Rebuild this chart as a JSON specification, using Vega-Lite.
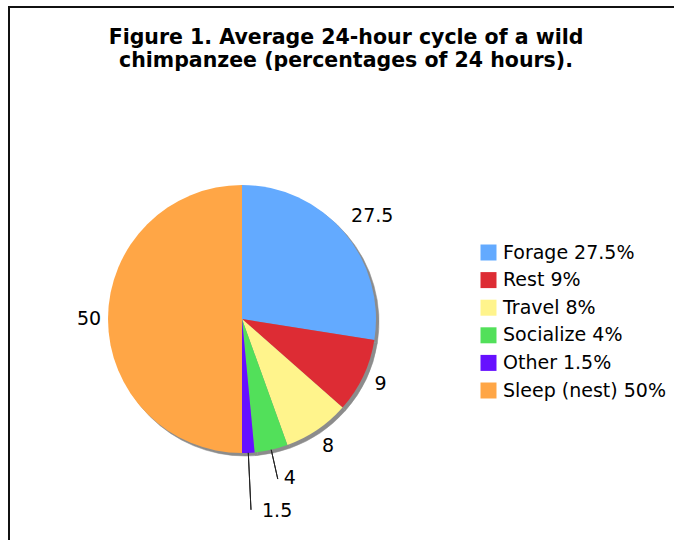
{
  "$schema": "https://vega.github.io/schema/vega-lite/v6.json",
  "width": 674,
  "height": 540,
  "autosize": "none",
  "padding": {"left": 9, "top": 7, "right": 0, "bottom": 0},
  "background": "white",
  "view": {"stroke": "#111", "strokeWidth": 2},
  "title": {
    "text": ["Figure 1. Average 24-hour cycle of a wild", "chimpanzee (percentages of 24 hours)."],
    "font": "DejaVu Sans",
    "fontSize": 20.5,
    "fontWeight": "bold",
    "color": "#000",
    "anchor": "middle",
    "frame": "group",
    "baseline": "top",
    "lineHeight": 23,
    "offset": -20,
    "dy": 44
  },
  "data": {
    "values": [
      {"activity": "Forage", "label": "Forage 27.5%", "value": 27.5, "order": 1},
      {"activity": "Rest", "label": "Rest 9%", "value": 9, "order": 2},
      {"activity": "Travel", "label": "Travel 8%", "value": 8, "order": 3},
      {"activity": "Socialize", "label": "Socialize 4%", "value": 4, "order": 4},
      {"activity": "Other", "label": "Other 1.5%", "value": 1.5, "order": 5},
      {"activity": "Sleep (nest)", "label": "Sleep (nest) 50%", "value": 50, "order": 6}
    ]
  },
  "transform": [
    {"stack": "value", "groupby": [], "sort": [{"field": "order", "order": "ascending"}], "as": ["v0", "v1"]},
    {"calculate": "(datum.v0 + datum.v1) / 2", "as": "mid"}
  ],
  "layer": [
    {
      "mark": {"type": "arc", "x": 236, "y": 315, "radius": 134, "fill": "#8c8c8c", "stroke": "#8c8c8c", "strokeWidth": 0.5},
      "encoding": {
        "theta": {"field": "v0", "type": "quantitative", "stack": null, "scale": {"domain": [0, 100]}},
        "theta2": {"field": "v1"}
      }
    },
    {
      "mark": {"type": "arc", "x": 233, "y": 312, "radius": 134},
      "encoding": {
        "theta": {"field": "v0", "type": "quantitative", "stack": null, "scale": {"domain": [0, 100]}},
        "theta2": {"field": "v1"},
        "color": {
          "field": "label",
          "type": "nominal",
          "sort": ["Forage 27.5%", "Rest 9%", "Travel 8%", "Socialize 4%", "Other 1.5%", "Sleep (nest) 50%"],
          "scale": {
            "domain": ["Forage 27.5%", "Rest 9%", "Travel 8%", "Socialize 4%", "Other 1.5%", "Sleep (nest) 50%"],
            "range": ["#63aaff", "#dd2c34", "#fff48c", "#52e05a", "#6610ff", "#ffa646"]
          },
          "legend": {
            "title": null,
            "orient": "none",
            "legendX": 470,
            "legendY": 236,
            "padding": 0,
            "symbolType": "square",
            "symbolSize": 256,
            "symbolStrokeWidth": 0,
            "labelFont": "DejaVu Sans",
            "labelFontSize": 19,
            "labelColor": "#000",
            "labelLimit": 300,
            "labelOffset": 5,
            "rowPadding": 7.6
          }
        }
      }
    },
    {
      "transform": [{"filter": "datum.activity === 'Socialize'"}],
      "mark": {"type": "arc", "x": 233, "y": 312, "radius": 164, "radius2": 134, "fill": null, "stroke": "#222", "strokeWidth": 1},
      "encoding": {
        "theta": {"field": "mid", "type": "quantitative", "stack": null, "scale": {"domain": [0, 100]}},
        "theta2": {"field": "mid"}
      }
    },
    {
      "transform": [{"filter": "datum.activity === 'Other'"}],
      "mark": {"type": "arc", "x": 233, "y": 312, "radius": 191, "radius2": 134, "fill": null, "stroke": "#222", "strokeWidth": 1},
      "encoding": {
        "theta": {"field": "mid", "type": "quantitative", "stack": null, "scale": {"domain": [0, 100]}},
        "theta2": {"field": "mid"}
      }
    },
    {
      "transform": [{"filter": "datum.activity === 'Rest' || datum.activity === 'Travel' || datum.activity === 'Sleep (nest)'"}],
      "mark": {"type": "text", "x": 233, "y": 312, "radius": 153, "font": "DejaVu Sans", "fontSize": 19, "color": "#000", "align": "center", "baseline": "middle"},
      "encoding": {
        "theta": {"field": "mid", "type": "quantitative", "stack": null, "scale": {"domain": [0, 100]}},
        "text": {"field": "value", "type": "nominal"}
      }
    },
    {
      "transform": [{"filter": "datum.activity === 'Forage'"}],
      "mark": {"type": "text", "x": 233, "y": 312, "radius": 166, "dx": 4, "dy": 5, "font": "DejaVu Sans", "fontSize": 19, "color": "#000", "align": "center", "baseline": "middle"},
      "encoding": {
        "theta": {"field": "mid", "type": "quantitative", "stack": null, "scale": {"domain": [0, 100]}},
        "text": {"field": "value", "type": "nominal"}
      }
    },
    {
      "transform": [{"filter": "datum.activity === 'Socialize'"}],
      "mark": {"type": "text", "x": 233, "y": 312, "radius": 164, "dx": 6, "dy": -1, "font": "DejaVu Sans", "fontSize": 19, "color": "#000", "align": "left", "baseline": "middle"},
      "encoding": {
        "theta": {"field": "mid", "type": "quantitative", "stack": null, "scale": {"domain": [0, 100]}},
        "text": {"field": "value", "type": "nominal"}
      }
    },
    {
      "transform": [{"filter": "datum.activity === 'Other'"}],
      "mark": {"type": "text", "x": 233, "y": 312, "radius": 191, "dx": 11, "dy": 1, "font": "DejaVu Sans", "fontSize": 19, "color": "#000", "align": "left", "baseline": "middle"},
      "encoding": {
        "theta": {"field": "mid", "type": "quantitative", "stack": null, "scale": {"domain": [0, 100]}},
        "text": {"field": "value", "type": "nominal"}
      }
    }
  ],
  "config": {
    "view": {"stroke": "#111", "strokeWidth": 2},
    "style": {
      "cell": {"stroke": "#111", "strokeWidth": 2},
      "view": {"stroke": "#111", "strokeWidth": 2}
    },
    "font": "DejaVu Sans"
  }
}
